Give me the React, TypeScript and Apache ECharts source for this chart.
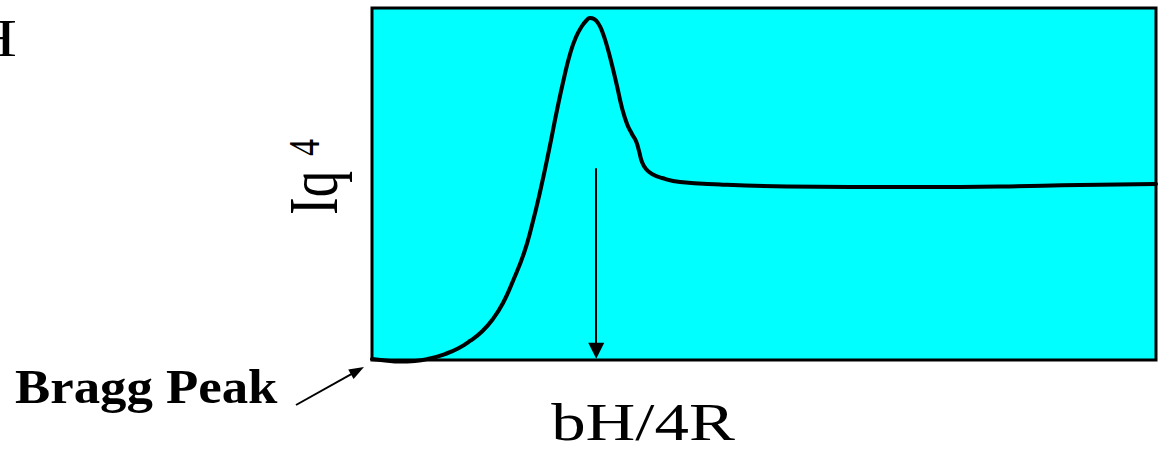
import React, { useEffect, useRef } from "react";
import * as echarts from "echarts";

// Scattering curve Iq^4 vs position (normalized 0..100 on both axes)
const curveX = [
  0, 1.66, 3.57, 5.48, 7.4, 9.31, 10.97, 12.5, 14.03, 15.43, 16.71, 17.98, 19.39, 20.41,
  21.43, 22.58, 23.6, 24.49, 25.26, 26.02, 26.79, 27.3, 27.81, 28.32, 28.83, 29.34,
  29.97, 30.61, 31.25, 31.89, 32.53, 33.16, 33.67, 34.06, 34.44, 34.95, 35.71, 36.99,
  39.29, 44.39, 52.93, 60.97, 69.9, 80.1, 90.31, 100,
];
const curveY = [
  0.28, -0.14, -0.43, -0.28, 0.43, 1.7, 3.27, 5.4, 8.1, 11.65, 16.19, 22.44, 30.4,
  38.35, 47.73, 59.66, 71.02, 80.11, 86.93, 91.76, 94.89, 96.31, 97.16, 96.88, 95.74,
  93.47, 89.2, 83.81, 77.84, 71.59, 67.05, 64.2, 62.22, 59.38, 56.25, 54.26, 52.84,
  51.7, 50.57, 49.86, 49.29, 49.15, 49.15, 49.29, 49.72, 50.0,
];
// Arrow marking bH/4R position
const markerX = 28.6;
const markerTopY = 54.5;
const markerBottomY = 2.6;

const xLabel = "bH/4R";
const yLabelBase = "Iq";
const yLabelSup = "4";
const braggLabel = "Bragg Peak";
const cornerLabel = "H";

const SERIF = "'Liberation Serif', 'Times New Roman', serif";

export default function App() {
  const ref = useRef<HTMLDivElement>(null);
  useEffect(() => {
    if (!ref.current) return;
    const chart = echarts.init(ref.current, null, { renderer: "svg" });
    const data = curveX.map((x, i) => [x, curveY[i]]);
    const tip = [364, 367];
    const tail = [296, 405];
    const dx = tip[0] - tail[0];
    const dy = tip[1] - tail[1];
    const len = Math.sqrt(dx * dx + dy * dy);
    const ux = dx / len;
    const uy = dy / len;
    const hl = 15;
    const hw = 5.5;
    const bx = tip[0] - ux * hl;
    const by = tip[1] - uy * hl;
    chart.setOption({
      animation: false,
      grid: {
        left: 372,
        top: 8,
        right: 7,
        bottom: 95,
        show: true,
        backgroundColor: "#00FFFF",
        borderColor: "#000",
        borderWidth: 3,
      },
      xAxis: {
        type: "value",
        min: 0,
        max: 100,
        axisLine: { show: false },
        axisTick: { show: false },
        axisLabel: { show: false },
        splitLine: { show: false },
      },
      yAxis: {
        type: "value",
        min: 0,
        max: 100,
        axisLine: { show: false },
        axisTick: { show: false },
        axisLabel: { show: false },
        splitLine: { show: false },
      },
      series: [
        {
          type: "line",
          data,
          smooth: 0.5,
          clip: false,
          symbol: "none",
          lineStyle: { color: "#000", width: 4, join: "round", cap: "round" },
          markLine: {
            silent: true,
            symbol: ["none", "triangle"],
            symbolSize: [16, 16],
            label: { show: false },
            lineStyle: { color: "#000", width: 2, type: "solid" },
            data: [[{ coord: [markerX, markerTopY] }, { coord: [markerX, markerBottomY] }]],
          },
        },
      ],
      graphic: [
        {
          type: "text",
          x: 643,
          y: 422,
          scaleX: 1.3,
          style: {
            text: xLabel,
            fontFamily: SERIF,
            fontSize: 53,
            fill: "#000",
            align: "center",
            verticalAlign: "middle",
          },
        },
        {
          type: "text",
          x: 17,
          y: 38,
          scaleX: 1.3,
          style: {
            text: cornerLabel,
            fontFamily: SERIF,
            fontSize: 53,
            fill: "#000",
            align: "right",
            verticalAlign: "middle",
          },
        },
        {
          type: "group",
          x: 335,
          y: 215,
          rotation: Math.PI / 2,
          scaleY: 1.3,
          children: [
            {
              type: "text",
              x: 0,
              y: -16.4,
              style: {
                text: yLabelBase,
                fontFamily: SERIF,
                fontSize: 53,
                fill: "#000",
                align: "left",
                verticalAlign: "middle",
              },
            },
            {
              type: "text",
              x: 59,
              y: -23.5,
              style: {
                text: yLabelSup,
                fontFamily: SERIF,
                fontSize: 34,
                fill: "#000",
                align: "left",
                verticalAlign: "middle",
              },
            },
          ],
        },
        {
          type: "text",
          x: 15,
          y: 387,
          scaleX: 1.1,
          style: {
            text: braggLabel,
            fontFamily: SERIF,
            fontWeight: "bold",
            fontSize: 48,
            fill: "#000",
            align: "left",
            verticalAlign: "middle",
          },
        },
        {
          type: "line",
          shape: { x1: tail[0], y1: tail[1], x2: bx + ux * 2, y2: by + uy * 2 },
          style: { stroke: "#000", lineWidth: 2 },
        },
        {
          type: "polygon",
          shape: {
            points: [
              [tip[0], tip[1]],
              [bx - uy * hw, by + ux * hw],
              [bx + uy * hw, by - ux * hw],
            ],
          },
          style: { fill: "#000" },
        },
      ],
    });
    return () => chart.dispose();
  }, []);
  return (
    <div
      ref={ref}
      style={{ position: "fixed", left: 0, top: 0, width: 1163, height: 455, background: "#fff" }}
    />
  );
}
